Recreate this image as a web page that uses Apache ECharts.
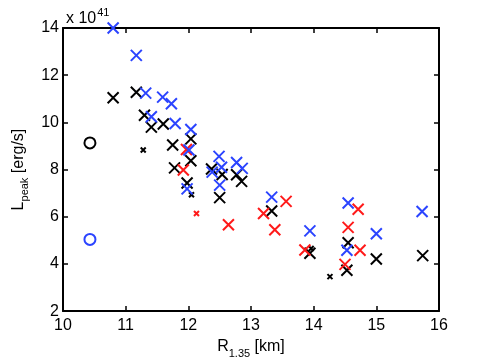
<!DOCTYPE html>
<html><head><meta charset="utf-8">
<script src="https://cdn.jsdelivr.net/npm/echarts@6/dist/echarts.min.js"></script>
<style>html,body{margin:0;padding:0;background:#fff}#c{width:485px;height:364px}</style>
</head><body><div id="c"></div>
<script>
const xTicks = [10, 11, 12, 13, 14, 15, 16];
const yTicks = [2, 4, 6, 8, 10, 12, 14];
const blueX = [[10.80,14.0],[11.17,12.84],[11.32,11.24],[11.41,10.24],[11.59,11.07],[11.73,10.79],[11.79,9.95],[12.04,9.70],[12.01,8.83],[11.98,7.18],[12.49,8.56],[12.53,8.10],[12.38,7.89],[12.77,8.30],[12.86,8.05],[12.50,7.34],[13.33,6.83],[13.94,5.40],[14.55,6.58],[14.53,4.58],[15.0,5.28],[15.73,6.22]];
const blackX = [[10.80,11.04],[11.17,11.28],[11.30,10.30],[11.41,9.80],[11.60,9.93],[11.75,9.04],[12.04,9.30],[12.04,8.37],[11.78,8.07],[11.98,7.43],[12.37,8.02],[12.54,7.79],[12.77,7.78],[12.85,7.50],[12.50,6.81],[13.33,6.24],[13.94,4.45],[14.55,4.90],[14.53,3.73],[15.0,4.21],[15.74,4.35]];
const blackSmall = [[11.28,8.83],[12.05,6.93],[13.96,4.65],[14.26,3.46]];
const redX = [[11.97,8.85],[11.92,7.98],[12.64,5.66],[13.20,6.14],[13.38,5.45],[13.56,6.65],[13.86,4.59],[14.55,5.55],[14.71,6.32],[14.74,4.58],[14.50,3.98]];
const redSmall = [[12.13,6.14]];
const blackCircle = [[10.43,9.13]];
const blueCircle = [[10.43,5.04]];

const BLUE = '#2b44ff', RED = '#ff1a1a', BLACK = '#000';
const XPATH = 'path://M0,0L10,10M10,0L0,10';
const FONT = 'Liberation Sans';

function xs(data, color, size, z) {
  return { type: 'scatter', data, symbol: XPATH, symbolSize: size, z: z,
    itemStyle: { color: 'rgba(0,0,0,0)', borderColor: color, borderWidth: 2, opacity: 1 },
    emphasis: { disabled: true }, animation: false };
}
function circ(data, color) {
  return { type: 'scatter', data, symbol: 'circle', symbolSize: 11,
    itemStyle: { color: 'rgba(0,0,0,0)', borderColor: color, borderWidth: 2, opacity: 1 },
    emphasis: { disabled: true }, animation: false };
}
const axisCommon = {
  axisLine: { show: true, lineStyle: { color: '#000', width: 2 } },
  axisTick: { show: true, inside: true, length: 5, lineStyle: { color: '#000', width: 1.5 } },
  splitLine: { show: false },
};
const chart = echarts.init(document.getElementById('c'));
chart.setOption({
  animation: false,
  textStyle: { fontFamily: FONT },
  grid: { left: 63, right: 46, top: 28, bottom: 46, containLabel: false },
  title: {
    text: '{a|x 10}{s|41}', left: 61, top: 2,
    textStyle: { fontWeight: 'normal', rich: {
      a: { fontFamily: FONT, fontSize: 16, fontWeight: 'normal', color: '#000', verticalAlign: 'bottom', lineHeight: 20 },
      s: { fontFamily: FONT, fontSize: 11, fontWeight: 'normal', color: '#000', verticalAlign: 'top', lineHeight: 20, padding: [0, 0, 6, 1] }
    } }
  },
  xAxis: [
    Object.assign({ type: 'value', min: xTicks[0], max: xTicks[xTicks.length-1], interval: 1,
      position: 'bottom',
      axisLabel: { color: '#000', fontSize: 16, fontFamily: FONT, margin: 6 },
      name: '{a|R}{s|1.35}{a| [km]}', nameLocation: 'middle', nameGap: 27,
      nameTextStyle: { rich: {
        a: { fontFamily: FONT, fontSize: 16, color: '#000', lineHeight: 20, verticalAlign: 'top' },
        s: { fontFamily: FONT, fontSize: 11, color: '#000', lineHeight: 20, verticalAlign: 'bottom', padding: [10, 0, 0, 0] }
      } } }, axisCommon),
    Object.assign({ type: 'value', min: xTicks[0], max: xTicks[xTicks.length-1], interval: 1,
      position: 'top', axisLabel: { show: false } }, axisCommon)
  ],
  yAxis: [
    Object.assign({ type: 'value', min: yTicks[0], max: yTicks[yTicks.length-1], interval: 2,
      position: 'left',
      axisLabel: { color: '#000', fontSize: 16, fontFamily: FONT, margin: 4 },
      name: '{a|L}{s|peak}{a| [erg/s]}', nameLocation: 'middle', nameGap: 30, nameRotate: 90,
      nameTextStyle: { rich: {
        a: { fontFamily: FONT, fontSize: 16, color: '#000', lineHeight: 20, verticalAlign: 'top' },
        s: { fontFamily: FONT, fontSize: 11, color: '#000', lineHeight: 20, verticalAlign: 'bottom', padding: [10, 0, 0, 0] }
      } } }, axisCommon),
    Object.assign({ type: 'value', min: yTicks[0], max: yTicks[yTicks.length-1], interval: 2,
      position: 'right', axisLabel: { show: false } }, axisCommon)
  ],
  series: [
    circ(blackCircle, BLACK),
    circ(blueCircle, BLUE),
    xs(blackX, BLACK, 11, 2),
    xs(blackSmall, BLACK, 5, 2),
    xs(redX, RED, 11, 3),
    xs(redSmall, RED, 5, 3),
    xs(blueX, BLUE, 11, 4)
  ]
});
</script></body></html>
